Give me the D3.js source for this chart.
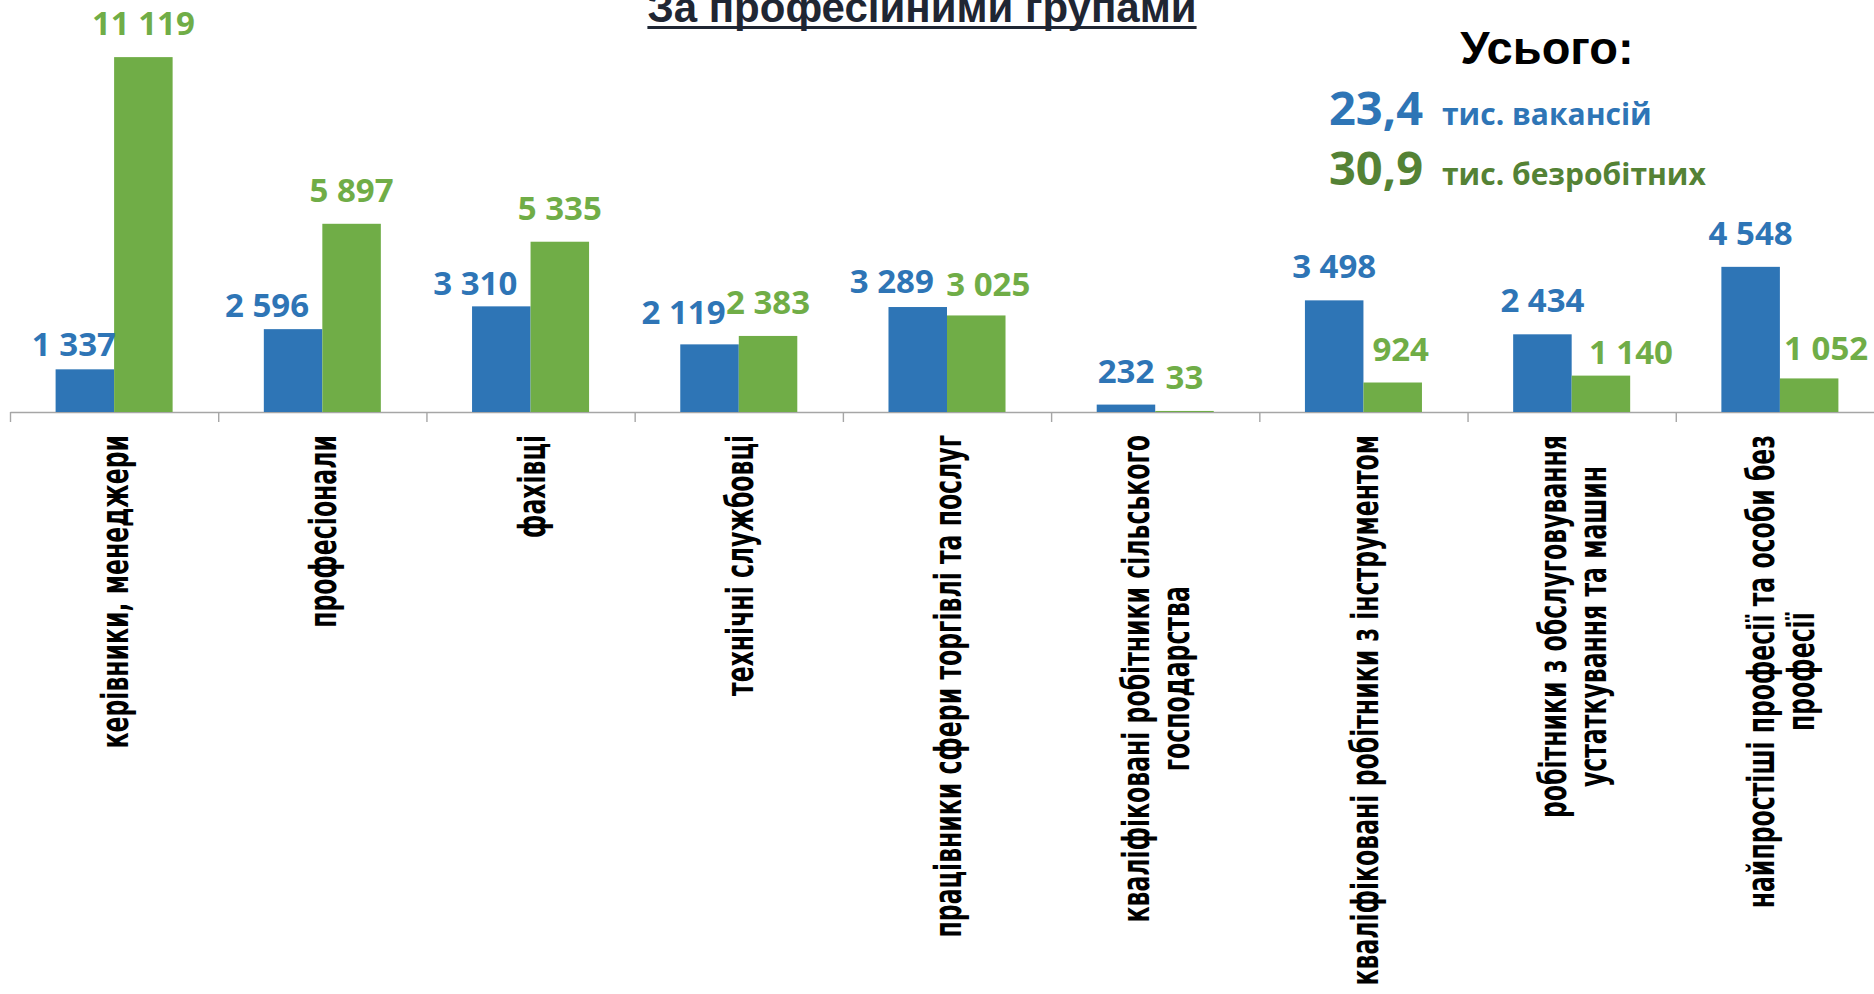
<!DOCTYPE html>
<html>
<head>
<meta charset="utf-8">
<script src="https://cdn.jsdelivr.net/npm/d3@7"></script>
<style>
  html, body { margin: 0; padding: 0; background: #fff; overflow: hidden; }
  svg { display: block; }
</style>
</head>
<body>
<div id="chart"></div>
<script>
// categories, one array of lines per label
const categories = [
  ['керівники, менеджери'],
  ['професіонали'],
  ['фахівці'],
  ['технічні службовці'],
  ['працівники сфери торгівлі та послуг'],
  ['кваліфіковані робітники сільського', 'господарства'],
  ['кваліфіковані робітники з інструментом'],
  ['робітники з обслуговування', 'устаткування та машин'],
  ['найпростіші професії та особи без', 'професії'],
];
const vacancies = [1337, 2596, 3310, 2119, 3289, 232, 3498, 2434, 4548];
const unemployed = [11119, 5897, 5335, 2383, 3025, 33, 924, 1140, 1052];
const totalValues = ['23,4', '30,9'];
const totalUnits = ['тис. вакансій', 'тис. безробітних'];
const title = 'За професійними групами';
const totalTitle = 'Усього:';

// hand nudges for the value labels [dx, dy], like the original slide
const vacNudge = [[-11, 9], [-26, 10], [-26, 11], [-26, 2], [-26, 8], [0, 0], [0, 0], [0, 0], [0, 0]];
const unempNudge = [[0, 0], [0, 0], [0, 0], [0, 0], [12, 3], [0, 0], [8, 0], [30, 10], [17, 4]];

const W = 1874, H = 994;
const baseY = 412;
const colors = {vac: '#2e75b6', unemp: '#70ad47', unempDark: '#548235', axis: '#a6a6a6', title: '#1f2633'};
const numFont = '"Open Sans", "Liberation Sans", sans-serif';
const catFont = '"DejaVu Sans", Verdana, sans-serif';
const headFont = '"Liberation Sans", Arial, sans-serif';

const fmt = d3.formatLocale({decimal: ',', thousands: '\u00a0', grouping: [3], currency: ['', '']}).format(',d');

const svg = d3.select('#chart').append('svg')
  .attr('width', W)
  .attr('height', H);

const keys = categories.map(d => d.join(' '));
const rows = keys.map((k, i) => ({
  key: k,
  lines: categories[i],
  vals: [
    {s: 'vac', v: vacancies[i], nudge: vacNudge[i]},
    {s: 'unemp', v: unemployed[i], nudge: unempNudge[i]},
  ],
}));

// the category axis runs a bit past the right edge of the slide
const x0 = d3.scaleBand().domain(keys).range([10, 1884]);
const bw = x0.bandwidth();
const x1 = d3.scaleBand().domain(['vac', 'unemp']).range([bw * 0.219, bw * 0.781]);
const y = d3.scaleLinear().domain([0, 12000]).range([baseY, 29]);

// axis with ticks between the groups
const tickScale = d3.scaleLinear().domain([0, keys.length]).range(x0.range());
const axis = d3.axisBottom(tickScale)
  .tickValues(d3.range(keys.length + 1))
  .tickFormat('')
  .tickSizeInner(10)
  .tickSizeOuter(0);
const axisG = svg.append('g')
  .attr('transform', `translate(0 ${baseY})`)
  .call(axis);
axisG.select('.domain').attr('stroke', colors.axis).attr('stroke-width', 1.4);
axisG.selectAll('.tick line').attr('stroke', colors.axis).attr('stroke-width', 1.4);

// bars
const groups = svg.append('g').selectAll('g')
  .data(rows)
  .join('g')
    .attr('transform', d => `translate(${x0(d.key)} 0)`);

groups.selectAll('rect')
  .data(d => d.vals)
  .join('rect')
    .attr('x', d => x1(d.s))
    .attr('width', x1.bandwidth())
    .attr('y', d => y(d.v))
    .attr('height', d => baseY - y(d.v))
    .attr('fill', d => colors[d.s]);

groups.selectAll('text.val')
  .data(d => d.vals)
  .join('text')
    .classed('val', true)
    .attr('x', d => x1(d.s) + x1.bandwidth() / 2 + d.nudge[0])
    .attr('y', d => y(d.v) - 22 + d.nudge[1])
    .attr('text-anchor', 'middle')
    .attr('font-family', numFont)
    .attr('font-weight', 'bold')
    .attr('font-size', 33)
    .attr('fill', d => colors[d.s])
    .text(d => fmt(d.v));

// rotated category labels, squeezed along the text like the slide font
const catSize = 38, catLine = 40, catScale = 0.62, catTop = 435;
const catG = svg.append('g').selectAll('g')
  .data(rows)
  .join('g')
    .attr('transform', d => `translate(${x0(d.key) + bw / 2} ${catTop}) rotate(-90) scale(${catScale} 1)`);

catG.each(function(d) {
  let g = d3.select(this);
  let n = d.lines.length;
  let texts = g.selectAll('text')
    .data(d.lines)
    .join('text')
      .attr('font-family', catFont)
      .attr('font-weight', 'bold')
      .attr('font-size', catSize)
      .attr('fill', '#000')
      .attr('text-anchor', 'middle')
      .attr('y', (t, i) => (i - (n - 1) / 2) * catLine + catSize * 0.37)
      .text(t => t);
  // lines are centred on each other, the longest one touches the axis
  let maxLen = d3.max(texts.nodes(), nd => nd.getComputedTextLength());
  texts.attr('x', -maxLen / 2);
});

// title with underline
const titleText = svg.append('text')
  .attr('x', 922)
  .attr('y', 22)
  .attr('text-anchor', 'middle')
  .attr('font-family', headFont)
  .attr('font-weight', 'bold')
  .attr('font-size', 42)
  .attr('fill', colors.title)
  .text(title);
const tw = titleText.node().getComputedTextLength();
svg.append('rect')
  .attr('x', 922 - tw / 2)
  .attr('y', 26)
  .attr('width', tw)
  .attr('height', 3)
  .attr('fill', colors.title);

// totals block
svg.append('text')
  .attr('x', 1547)
  .attr('y', 64)
  .attr('text-anchor', 'middle')
  .attr('font-family', headFont)
  .attr('font-weight', 'bold')
  .attr('font-size', 47)
  .attr('fill', '#000')
  .text(totalTitle);

const totalColors = [colors.vac, colors.unempDark];
const totalY = [125, 185];
totalValues.forEach((v, i) => {
  svg.append('text')
    .attr('x', 1329)
    .attr('y', totalY[i])
    .attr('font-family', numFont)
    .attr('font-weight', 'bold')
    .attr('font-size', 47)
    .attr('fill', totalColors[i])
    .text(v);
  svg.append('text')
    .attr('x', 1442)
    .attr('y', totalY[i])
    .attr('font-family', numFont)
    .attr('font-weight', 'bold')
    .attr('font-size', 30)
    .attr('fill', totalColors[i])
    .text(totalUnits[i]);
});
</script>
</body>
</html>
